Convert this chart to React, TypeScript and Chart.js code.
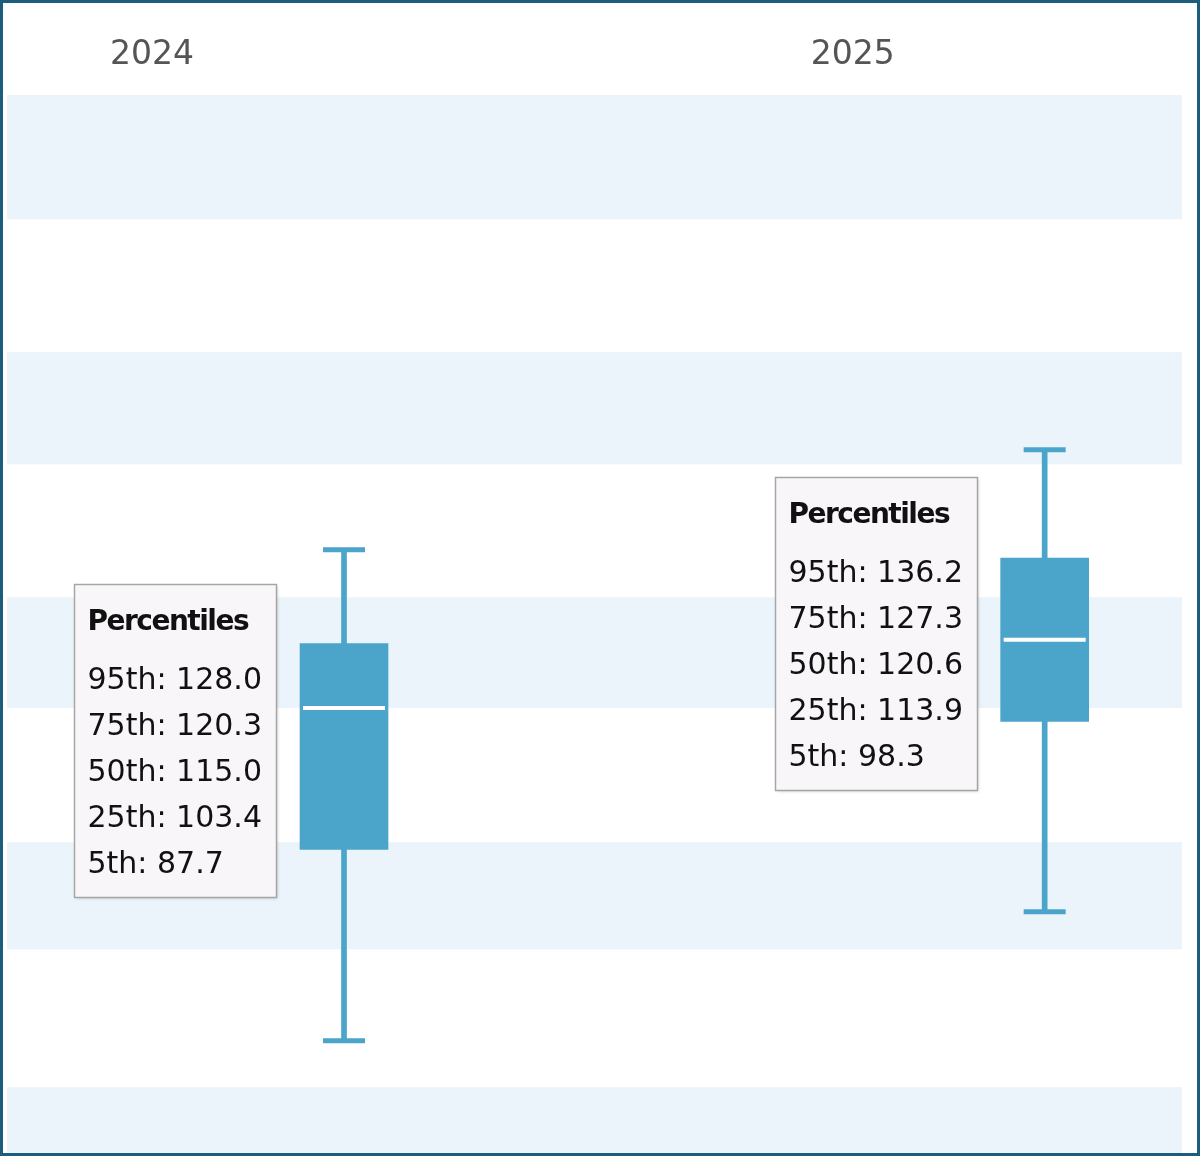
import React, { useEffect, useRef } from 'react';
import { Chart, registerables } from 'chart.js';

Chart.register(...registerables);

// ---- data ----
const categories = ['2024', '2025'];
const p95 = [128.0, 136.2];
const p75 = [120.3, 127.3];
const p50 = [115.0, 120.6];
const p25 = [103.4, 113.9];
const p5 = [87.7, 98.3];
const percentileNames = ['95th', '75th', '50th', '25th', '5th'];
const bandLow = [155.1, 135.0, 115.0, 95.2, 74.0];
const bandHigh = [165.3, 144.2, 124.1, 104.0, 83.9];

// ---- axis ranges / layout constants ----
const Y_MIN = 78.5;
const Y_MAX = 165.3;
const X_MIN = -0.481;
const X_MAX = 1.196;
const LABEL_SHIFT = -0.274;

const BOX_COLOR = '#4ba4c9';
const BAND_COLOR = '#ecf4fb';
const CANVAS_W = 1194;
const CANVAS_H = 1150;

const bandsPlugin = {
  id: 'bands',
  beforeDatasetsDraw(chart: any) {
    const { ctx, chartArea: a, scales } = chart;
    const y = scales.y;
    ctx.save();
    ctx.beginPath();
    ctx.rect(a.left, a.top, a.right - a.left, a.bottom - a.top);
    ctx.clip();
    ctx.fillStyle = BAND_COLOR;
    bandLow.forEach((lo, i) => {
      const t = y.getPixelForValue(bandHigh[i]);
      const b = y.getPixelForValue(lo);
      ctx.fillRect(a.left, t, a.right - a.left, b - t);
    });
    ctx.restore();
  },
};

const infoPlugin = {
  id: 'percentileInfo',
  afterDatasetsDraw(chart: any) {
    const { ctx, scales } = chart;
    const x = scales.x;
    const y = scales.y;
    categories.forEach((_c, i) => {
      const cx = x.getPixelForValue(i);
      const cy = y.getPixelForValue((p25[i] + p75[i]) / 2) - 6;
      const w = 202;
      const h = 313;
      const left = Math.round(cx - 44 - 24 - w) + 0.5;
      const top = Math.round(cy - h / 2) + 0.5;
      ctx.save();
      ctx.shadowColor = 'rgba(0,0,0,0.18)';
      ctx.shadowBlur = 3;
      ctx.shadowOffsetX = 1;
      ctx.shadowOffsetY = 1;
      ctx.fillStyle = '#f8f6f8';
      ctx.fillRect(left, top, w, h);
      ctx.shadowColor = 'transparent';
      ctx.lineWidth = 1.5;
      ctx.strokeStyle = '#a6a6a6';
      ctx.strokeRect(left, top, w, h);

      ctx.fillStyle = '#111';
      ctx.textAlign = 'left';
      ctx.textBaseline = 'alphabetic';
      (ctx as any).letterSpacing = '-1.5px';
      ctx.font = 'bold 28px "DejaVu Sans"';
      ctx.fillText('Percentiles', left + 13, top + 45);
      (ctx as any).letterSpacing = '0px';
      ctx.font = '30px "DejaVu Sans"';
      const vals = [p95[i], p75[i], p50[i], p25[i], p5[i]];
      vals.forEach((v, k) => {
        ctx.fillText(`${percentileNames[k]}: ${v.toFixed(1)}`, left + 13, top + 104 + k * 46);
      });
      ctx.restore();
    });
  },
};

export default function App() {
  const ref = useRef<HTMLCanvasElement | null>(null);

  useEffect(() => {
    document.body.style.margin = '0';
    document.body.style.overflow = 'hidden';
    const canvas = ref.current;
    if (!canvas) return;

    const idx = categories.map((_, i) => i);

    const chart = new Chart(canvas, {
      type: 'bar',
      data: {
        datasets: [
          {
            type: 'scatter',
            label: 'median',
            data: idx.map((i) => ({ x: i, y: p50[i] })),
            pointStyle: 'line',
            pointRadius: 41,
            pointBorderWidth: 4,
            pointBorderColor: '#ffffff',
            pointBackgroundColor: '#ffffff',
            order: 1,
          } as any,
          {
            type: 'bar',
            label: 'box',
            data: idx.map((i) => ({ x: i, y: [p25[i], p75[i]] })),
            backgroundColor: BOX_COLOR,
            borderWidth: 0,
            barThickness: 88,
            grouped: false,
            order: 2,
          } as any,
          {
            type: 'scatter',
            label: 'caps',
            data: idx.flatMap((i) => [
              { x: i, y: p5[i] },
              { x: i, y: p95[i] },
            ]),
            pointStyle: 'line',
            pointRadius: 21,
            pointBorderWidth: 5,
            pointBorderColor: BOX_COLOR,
            pointBackgroundColor: BOX_COLOR,
            order: 3,
          } as any,
          {
            type: 'bar',
            label: 'whisker',
            data: idx.map((i) => ({ x: i, y: [p5[i], p95[i]] })),
            backgroundColor: BOX_COLOR,
            borderWidth: 0,
            barThickness: 5,
            grouped: false,
            order: 4,
          } as any,
        ],
      },
      options: {
        animation: false,
        responsive: false,
        devicePixelRatio: 1,
        events: [],
        layout: { autoPadding: false, padding: { left: 4, right: 15, top: 0, bottom: 0 } },
        plugins: {
          legend: { display: false },
          tooltip: { enabled: false },
          title: { display: false },
        },
        scales: {
          x: {
            type: 'linear',
            min: X_MIN,
            max: X_MAX,
            offset: false,
            display: false,
          },
          y: {
            type: 'linear',
            min: Y_MIN,
            max: Y_MAX,
            display: false,
          },
          x2: {
            type: 'linear',
            position: 'top',
            min: X_MIN,
            max: X_MAX,
            offset: false,
            grid: { display: false, drawTicks: false },
            border: { display: false },
            afterBuildTicks: (scale: any) => {
              scale.ticks = categories.map((_, i) => ({ value: i + LABEL_SHIFT }));
            },
            afterFit: (scale: any) => {
              scale.height = 92;
            },
            ticks: {
              autoSkip: false,
              maxRotation: 0,
              padding: 20,
              color: '#555555',
              font: { family: 'DejaVu Sans', size: 33 },
              callback: (_v: any, index: number) => categories[index],
            },
          } as any,
        },
      } as any,
      plugins: [bandsPlugin, infoPlugin],
    });

    return () => chart.destroy();
  }, []);

  return (
    <div
      style={{
        width: 1200,
        height: 1156,
        boxSizing: 'border-box',
        border: '3px solid #1d5c7d',
        background: '#ffffff',
        position: 'relative',
      }}
    >
      <canvas ref={ref} width={CANVAS_W} height={CANVAS_H} style={{ display: 'block' }} />
    </div>
  );
}
